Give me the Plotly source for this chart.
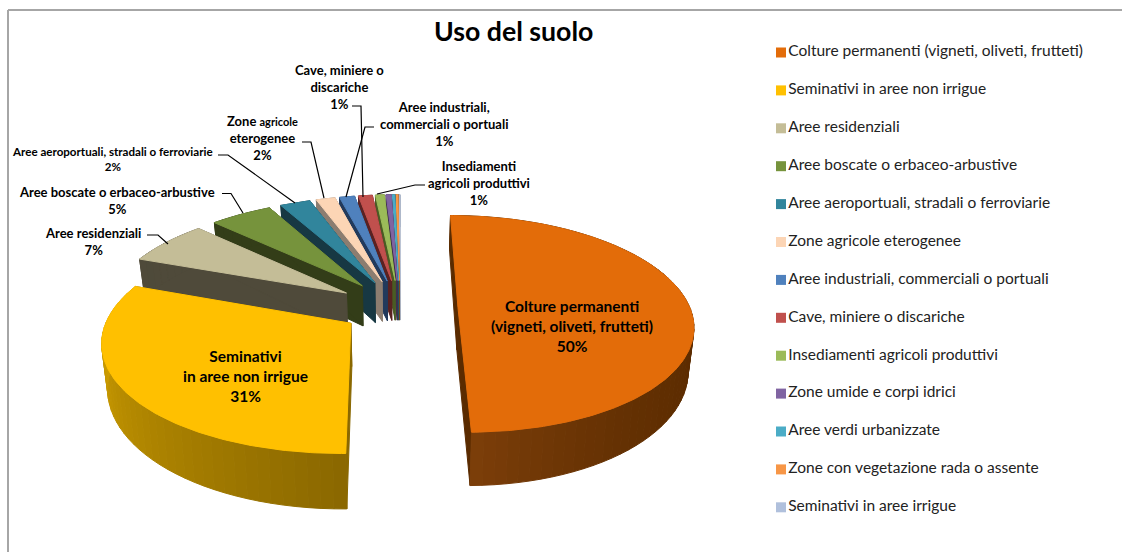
import numpy as np
import plotly.graph_objects as go

# ---------- data ----------
CATEGORIES = [
    "Colture permanenti (vigneti, oliveti, frutteti)",
    "Seminativi in aree non irrigue",
    "Aree residenziali",
    "Aree boscate o erbaceo-arbustive",
    "Aree aeroportuali, stradali o ferroviarie",
    "Zone agricole eterogenee",
    "Aree industriali, commerciali o portuali",
    "Cave, miniere o discariche",
    "Insediamenti agricoli produttivi",
    "Zone umide e corpi idrici",
    "Aree verdi urbanizzate",
    "Zone con vegetazione rada o assente",
    "Seminativi in aree irrigue",
]
VALUES = [49.8, 30.9, 6.6, 4.9, 2.4, 1.5, 1.2, 1.1, 0.7, 0.4, 0.2, 0.2, 0.1]
COLORS = ["#E36C09", "#FFC000", "#C4BD97", "#76933C", "#31859C", "#FCD5B5",
          "#4F81BD", "#C0504D", "#9BBB59", "#8064A2", "#4BACC6", "#F79646", "#B0C0DC"]
WALL_LIGHT = ["#7D3F0A", "#E0AC00", "#4F4A3A", "#333D18", "#173843", "#8C7D70",
              "#223A5C", "#5A2222", "#4A5C24", "#3E3050", "#215460", "#78481E", "#8A94A8"]
WALL_DARK = ["#5A2B00", "#8A6800", "#4F4A3A", "#333D18", "#173843", "#8C7D70",
             "#223A5C", "#5A2222", "#4A5C24", "#3E3050", "#215460", "#78481E", "#8A94A8"]
PULL = [0.25, 0.245, 0.27, 0.27, 0.27, 0.27, 0.27, 0.27, 0.27, 0.27, 0.27, 0.27, 0.27]

TITLE = "Uso del suolo"
# label text, centre x, centre y, font size
LABELS = [
    ("Colture permanenti<br>(vigneti, oliveti, frutteti)<br>50%", 572, 326, 15.5),
    ("Seminativi<br>in aree non irrigue<br>31%", 245, 376, 15.5),
    ("Aree residenziali<br>7%", 93, 241, 13),
    ("Aree boscate o erbaceo-arbustive<br>5%", 117, 200, 13),
    ("Aree aeroportuali, stradali o ferroviarie<br>2%", 112, 159, 11.6),
    ("Zone <span style=\"font-size:11px\">agricole</span><br>eterogenee<br>2%", 262, 138, 13),
    ("Cave, miniere o<br>discariche<br>1%", 339, 87, 13),
    ("Aree industriali,<br>commerciali o portuali<br>1%", 444, 124, 13),
    ("Insediamenti<br>agricoli produttivi<br>1%", 479, 183, 13),
]
LEADERS = [
    [(147, 235), (158, 235), (168, 244)],
    [(222, 193.5), (231, 193.5), (243, 213)],
    [(218, 155), (228, 155), (295, 203)],
    [(302, 142), (311, 142), (324, 198)],
    [(352, 106), (361, 106), (363, 197)],
    [(374, 127), (365, 127), (346, 197)],
    [(425, 185), (415, 185), (377, 194)],
]

# ---------- pie geometry ----------
CX, CY = 400.0, 308.0
R_LEFT, R_RIGHT, R_Y = 240.0, 232.0, 106.0
PERSPECTIVE = 0.148
DEPTH = 42.0
LOWER_SHRINK = 0.98
FONT = "Lato, Carlito, Calibri, sans-serif"


def project(u, v):
    u, v = np.asarray(u, float), np.asarray(v, float)
    s = 1.0 / (1.0 - PERSPECTIVE * v)
    rx = np.where(u < 0, R_LEFT, R_RIGHT)
    return CX + rx * u * s, CY + R_Y * v * s, s


def lower(x, y, s):
    return CX + (x - CX) * LOWER_SHRINK, y + DEPTH * s ** 1.5


def hex_rgb(h):
    return np.array([int(h[i:i + 2], 16) for i in (1, 3, 5)], float)


def mix(a, b, t):
    c = hex_rgb(a) * (1 - t) + hex_rgb(b) * t
    return "rgb(%d,%d,%d)" % tuple(c)


def poly(x, y, color, name=None):
    return go.Scatter(x=list(x), y=list(y), mode="lines", fill="toself", fillcolor=color,
                      line=dict(width=1, color=color), showlegend=False,
                      hoverinfo="text" if name else "skip", text=name, hoveron="fills")


fig = go.Figure()
fractions = np.array(VALUES) / sum(VALUES)
ends = np.cumsum(fractions) * 2 * np.pi
starts = ends - fractions * 2 * np.pi

for i in reversed(range(len(VALUES))):
    a0, a1 = starts[i], ends[i]
    mid = (a0 + a1) / 2
    au, av = PULL[i] * np.sin(mid), -PULL[i] * np.cos(mid)
    n = max(3, int((a1 - a0) / 0.015))
    th = np.linspace(a0, a1, n)
    ax, ay, asc = project(au, av)
    ox, oy, os_ = project(au + np.sin(th), av - np.cos(th))
    bx, by = lower(ox, oy, os_)
    lax, lay = lower(ax, ay, asc)

    # radial cut walls
    for k in (0, -1):
        fig.add_trace(poly([ax, ox[k], bx[k], lax, ax], [ay, oy[k], by[k], lay, ay], WALL_DARK[i]))
    # rim, in bands of shade
    step = 3 if n > 12 else n - 1
    for j in range(0, n - 1, step):
        e = min(j + step, n - 1)
        t = (j + e) / 2 / (n - 1)
        if i == 0:
            t = t ** 5
        col = mix(WALL_DARK[i], WALL_LIGHT[i], t)
        px = list(ox[j:e + 1]) + list(bx[j:e + 1][::-1]) + [ox[j]]
        py = list(oy[j:e + 1]) + list(by[j:e + 1][::-1]) + [oy[j]]
        fig.add_trace(poly(px, py, col))
    # upper face
    fig.add_trace(poly([ax] + list(ox) + [ax], [ay] + list(oy) + [ay], COLORS[i],
                       "%s: %.0f%%" % (CATEGORIES[i], VALUES[i])))

# legend column
LEG_X = 781
LEG_Y0, LEG_STEP = 52.5, 37.9
fig.add_trace(go.Scatter(
    x=[LEG_X] * len(CATEGORIES),
    y=[LEG_Y0 + LEG_STEP * i for i in range(len(CATEGORIES))],
    mode="markers+text",
    marker=dict(symbol="square", size=10, color=COLORS),
    text=CATEGORIES, textposition="middle right",
    textfont=dict(family=FONT, size=15.5, color="#222222"),
    showlegend=False, hoverinfo="skip",
))

shapes = [
    dict(type="line", x0=8, x1=8, y0=10, y1=552, line=dict(color="#A6A6A6", width=2)),
    dict(type="line", x0=8, x1=1122, y0=10, y1=10, line=dict(color="#A6A6A6", width=2)),
]
for pts in LEADERS:
    path = "M " + " L ".join("%g,%g" % p for p in pts)
    shapes.append(dict(type="path", path=path, line=dict(color="#000000", width=1.2)))

annotations = [dict(x=513.5, y=31, text="<b>%s</b>" % TITLE, showarrow=False, xref="x", yref="y",
                    font=dict(family=FONT, size=26.7, color="#000000"))]
for text, x, y, size in LABELS:
    annotations.append(dict(x=x, y=y, text="<b>%s</b>" % text, showarrow=False, xref="x", yref="y",
                            align="center", font=dict(family=FONT, size=size, color="#000000")))

fig.update_layout(
    width=1122, height=552,
    margin=dict(l=0, r=0, t=0, b=0),
    paper_bgcolor="white", plot_bgcolor="white",
    xaxis=dict(range=[0, 1122], visible=False, fixedrange=True),
    yaxis=dict(range=[552, 0], visible=False, fixedrange=True),
    shapes=shapes, annotations=annotations, showlegend=False,
)
fig.write_html("out.html", config=dict(displayModeBar=False),
               post_script="document.body.style.margin='0';document.documentElement.style.overflow='hidden';")
